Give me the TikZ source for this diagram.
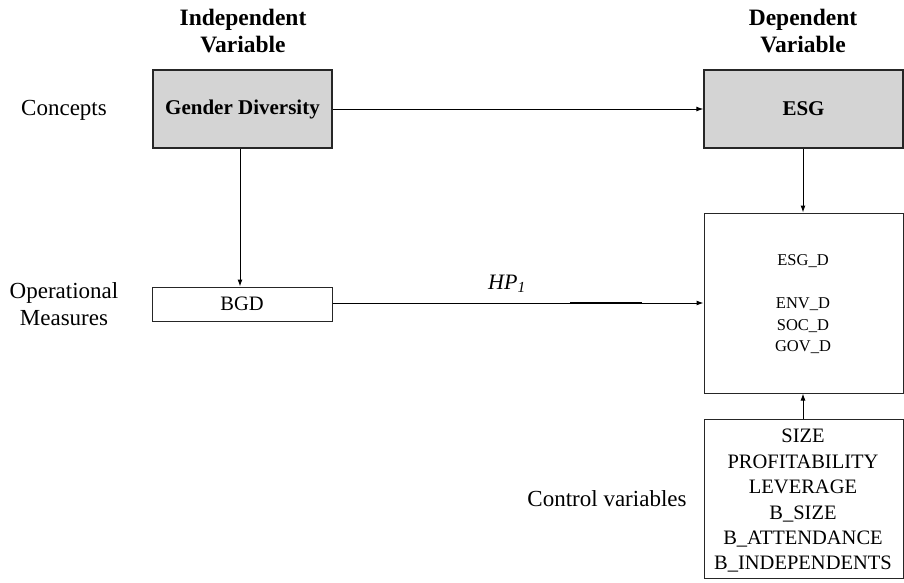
\documentclass[tikz,border=0pt]{standalone}
\usepackage{fontspec}
\setmainfont{Liberation Serif}
\usetikzlibrary{arrows.meta}
\begin{document}
\begin{tikzpicture}[x=1pt,y=-1pt,
  lbl/.style={font=\fontsize{23}{27}\selectfont, align=center, inner sep=0pt},
  hdr/.style={font=\fontsize{23.5}{27}\selectfont\bfseries, align=center, inner sep=0pt},
  concept/.style={draw=black!85, line width=1.3pt, fill=black!17, inner sep=0pt},
  measure/.style={draw=black!85, line width=1pt, fill=white, inner sep=0pt},
  conn/.style={line width=1pt, -{Latex[length=7pt,width=5pt]}}
]
\useasboundingbox (0,0) rectangle (904,582);
% headers
\node[hdr] (hi) at (243,31) {Independent\\Variable};
\node[hdr] (hd) at (803,31) {Dependent\\Variable};
% row labels
\node[lbl] (lc) at (64,110) {Concepts};
\node[lbl] (lo) at (64,304) {Operational\\Measures};
\node[lbl] (lcv) at (607,499) {Control variables};
% boxes
\node[concept, minimum width=179pt, minimum height=78pt] (gd) at (242.5,109) {};
\node[font=\fontsize{21}{24}\selectfont\bfseries] at (gd.center) {Gender Diversity};
\node[concept, minimum width=199pt, minimum height=78pt] (esg) at (803.5,109) {};
\node[font=\fontsize{21}{24}\selectfont\bfseries] at (esg.center) {ESG};
\node[measure, minimum width=180pt, minimum height=34pt] (bgd) at (242,304) {};
\node[font=\fontsize{20.5}{24}\selectfont] at (bgd.center) {BGD};
\node[measure, minimum width=199pt, minimum height=180pt] (dv) at (803.5,303) {};
\node[font=\fontsize{16.5}{21.5}\selectfont] at (803,261) {ESG\_D};
\node[font=\fontsize{16.5}{21.5}\selectfont] at (803,304) {ENV\_D};
\node[font=\fontsize{16.5}{21.5}\selectfont] at (803,326) {SOC\_D};
\node[font=\fontsize{16.5}{21.5}\selectfont] at (803,347) {GOV\_D};
\node[measure, minimum width=199pt, minimum height=159pt] (cv) at (803.5,498.5) {};
\node[font=\fontsize{20.5}{25.4}\selectfont, align=center] at (803,501) {SIZE\\PROFITABILITY\\LEVERAGE\\B\_SIZE\\B\_ATTENDANCE\\B\_INDEPENDENTS};
% connectors
\draw[conn] (gd.east) -- (esg.west);
\draw[conn] (gd.south -| 240,0) -- (bgd.north -| 240,0);
\draw[conn] (esg.south -| 803,0) -- (dv.north -| 803,0);
\draw[conn] (cv.north -| 803,0) -- (dv.south -| 803,0);
\draw[conn] (bgd.east |- 0,303) -- (dv.west |- 0,303);
\draw[line width=1.8pt] (570,302.5) -- (642,302.5);
\node[font=\fontsize{22}{24}\selectfont\itshape, inner sep=0pt] (hp) at (507,284) {HP\textsubscript{1}};
\end{tikzpicture}
\end{document}
